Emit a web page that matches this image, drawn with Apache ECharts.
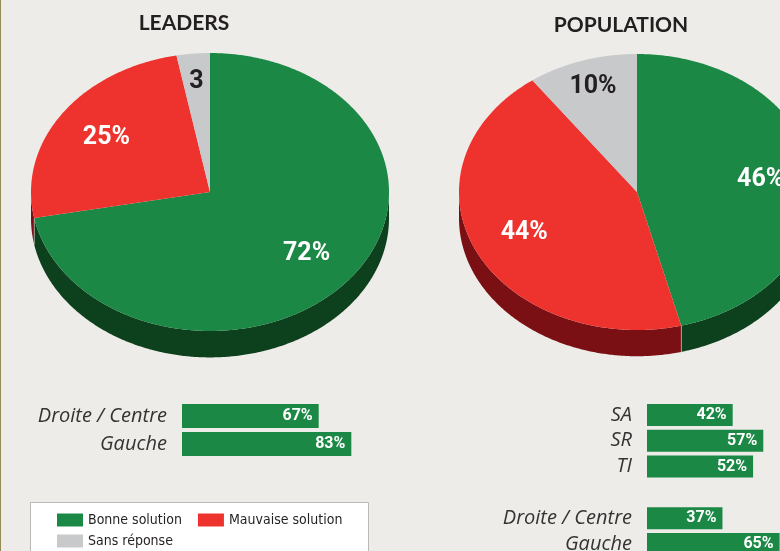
<!DOCTYPE html>
<html><head><meta charset="utf-8">
<script src="https://cdn.jsdelivr.net/npm/echarts/dist/echarts.min.js"></script>
<style>html,body{margin:0;padding:0;background:#edece8}#c{width:780px;height:551px}</style>
</head><body><div id="c"></div>
<script>
// ---- data ----
const answerCategories = ['Bonne solution', 'Mauvaise solution', 'Sans réponse'];
const pieTitles = ['LEADERS', 'POPULATION'];
const leadersValues = [72, 25, 3];
const leadersLabels = ['72%', '25%', '3'];
const populationValues = [46, 44, 10];
const populationLabels = ['46%', '44%', '10%'];
const leadersBarCategories = ['Droite / Centre', 'Gauche'];
const leadersBarValues = [67, 83];
const populationBarCategories = ['SA', 'SR', 'TI', '', 'Droite / Centre', 'Gauche'];
const populationBarValues = [42, 57, 52, null, 37, 65];

// ---- styles ----
const topColors = ['#1b8945', '#ee332e', '#c8c9cb'];
const sideColors = ['#0d401c', '#7a1013', '#8e8f91'];
const labelColors = ['#ffffff', '#ffffff', '#231f20'];
const NARROW = "'Liberation Sans Narrow','DejaVu Sans Condensed',sans-serif";
const BOLDNUM = "Roboto,'DejaVu Sans Condensed',sans-serif";
const DEPTH = 0.19;

function cumStart(values, i) { let s = 0; for (let k = 0; k < i; k++) s += values[k]; return s; }

function makeRender(labels, ci) {
  return function (params, api) {
    const v = api.value(2), s = api.value(3);
    const a0 = s / 100 * 360, a1 = (s + v) / 100 * 360;
    const pt = (deg, r, dy) => {
      const t = deg * Math.PI / 180;
      return api.coord([Math.sin(t) * r, Math.cos(t) * r - (dy || 0)]);
    };
    const arc = (from, to, r, dy) => {
      const out = [];
      for (let d = from; d < to; d += 0.5) out.push(pt(d, r, dy));
      out.push(pt(to, r, dy));
      return out;
    };
    const children = [];
    const wa = Math.max(a0, 90), wb = Math.min(a1, 270);
    if (wa < wb) {
      const top = arc(wa, wb, 1, 0);
      const bot = arc(wa, wb, 1, DEPTH).reverse();
      children.push({ type: 'polygon', shape: { points: top.concat(bot) }, style: { fill: sideColors[ci] } });
      [wa, wb].forEach(function (a) {
        if (a > 90 && a < 270) {
          const p1 = pt(a, 1, 0), p2 = pt(a, 1, DEPTH);
          children.push({ type: 'line', shape: { x1: p1[0], y1: p1[1], x2: p2[0], y2: p2[1] }, style: { stroke: 'rgba(255,255,255,0.35)', lineWidth: 1 } });
        }
      });
    }
    const pts = [api.coord([0, 0])].concat(arc(a0, a1, 1, 0));
    children.push({ type: 'polygon', shape: { points: pts }, style: { fill: topColors[ci] } });
    const mid = (a0 + a1) / 2;
    const lp = pt(mid, v < 15 ? 0.8 : 0.7, 0);
    children.push({ type: 'text', z2: 100, x: lp[0], y: lp[1],
      style: { text: labels[ci], fill: labelColors[ci], font: 'bold 25px ' + BOLDNUM, align: 'center', verticalAlign: 'middle' } });
    return { type: 'group', children: children };
  };
}

const pies = [
  { values: leadersValues, labels: leadersLabels },
  { values: populationValues, labels: populationLabels }
];

const series = [];
pies.forEach(function (p, pi) {
  answerCategories.forEach(function (name, ci) {
    series.push({
      type: 'custom', name: name, coordinateSystem: 'cartesian2d',
      xAxisIndex: pi, yAxisIndex: pi, clip: false, silent: true,
      itemStyle: { color: topColors[ci] },
      dimensions: ['cx', 'cy', 'value', 'start'],
      encode: { x: 'cx', y: 'cy' },
      data: [[0, 0, p.values[ci], cumStart(p.values, ci)]],
      renderItem: makeRender(p.labels, ci)
    });
  });
});

const barLabel = { show: true, position: 'insideRight', distance: 6, formatter: '{c}%',
  color: '#fff', fontFamily: BOLDNUM, fontWeight: 'bold', fontSize: 16 };
series.push({ type: 'bar', name: 'leadersBars', xAxisIndex: 2, yAxisIndex: 2, data: leadersBarValues,
  barWidth: 24, itemStyle: { color: '#1b8945' }, label: barLabel, silent: true });
series.push({ type: 'bar', name: 'populationBars', xAxisIndex: 3, yAxisIndex: 3, data: populationBarValues,
  barWidth: 22, itemStyle: { color: '#1b8945' }, label: barLabel, silent: true });

const hiddenVal = (min, max) => ({ type: 'value', show: false, min: min, max: max, splitLine: { show: false } });
const catAxis = (cats) => ({ type: 'category', data: cats, inverse: true,
  axisLine: { show: false }, axisTick: { show: false }, splitLine: { show: false },
  axisLabel: { interval: 0, hideOverlap: false, margin: 15, color: '#333', fontFamily: "'Open Sans', sans-serif", fontStyle: 'italic', fontSize: 20 } });

const gridBase = { containLabel: false, outerBoundsMode: 'none' };
const titleStyle = { fontFamily: 'Lato, sans-serif', fontWeight: 'bold', fontSize: 21, color: '#231f20' };
const legendBase = { left: 57, padding: 0, icon: 'rect', itemWidth: 26, itemHeight: 13, itemGap: 16,
  selectedMode: false, textStyle: { fontFamily: NARROW, fontSize: 14, color: '#231f20' } };

const option = {
  backgroundColor: '#edece8',
  animation: false,
  title: [
    { text: pieTitles[0], left: 184, top: 13, textAlign: 'center', padding: 0, textStyle: titleStyle },
    { text: pieTitles[1], left: 621, top: 15, textAlign: 'center', padding: 0, textStyle: titleStyle }
  ],
  graphic: [
    { type: 'rect', left: 0, top: 0, shape: { width: 1, height: 551 }, style: { fill: '#948c55' }, silent: true },
    { type: 'rect', z: -1, shape: { x: 30.5, y: 502.5, width: 338, height: 80 }, style: { fill: '#ffffff', stroke: '#b9b9b9', lineWidth: 1 }, silent: true }
  ],
  legend: [
    Object.assign({}, legendBase, { top: 513, data: [answerCategories[0], answerCategories[1]] }),
    Object.assign({}, legendBase, { top: 534, data: [answerCategories[2]] })
  ],
  grid: [
    Object.assign({ left: 31, top: 53, width: 358, height: 278 }, gridBase),
    Object.assign({ left: 459, top: 54, width: 356, height: 276 }, gridBase),
    Object.assign({ left: 182, top: 402, width: 204, height: 56 }, gridBase),
    Object.assign({ left: 647, top: 402, width: 204, height: 155 }, gridBase)
  ],
  xAxis: [
    Object.assign({ gridIndex: 0 }, hiddenVal(-1, 1)),
    Object.assign({ gridIndex: 1 }, hiddenVal(-1, 1)),
    Object.assign({ gridIndex: 2 }, hiddenVal(0, 100)),
    Object.assign({ gridIndex: 3 }, hiddenVal(0, 100))
  ],
  yAxis: [
    Object.assign({ gridIndex: 0 }, hiddenVal(-1, 1)),
    Object.assign({ gridIndex: 1 }, hiddenVal(-1, 1)),
    Object.assign({ gridIndex: 2 }, catAxis(leadersBarCategories)),
    Object.assign({ gridIndex: 3 }, catAxis(populationBarCategories))
  ],
  series: series
};

const chart = echarts.init(document.getElementById('c'), null, { renderer: 'canvas' });
chart.setOption(option);
</script>
</body></html>
